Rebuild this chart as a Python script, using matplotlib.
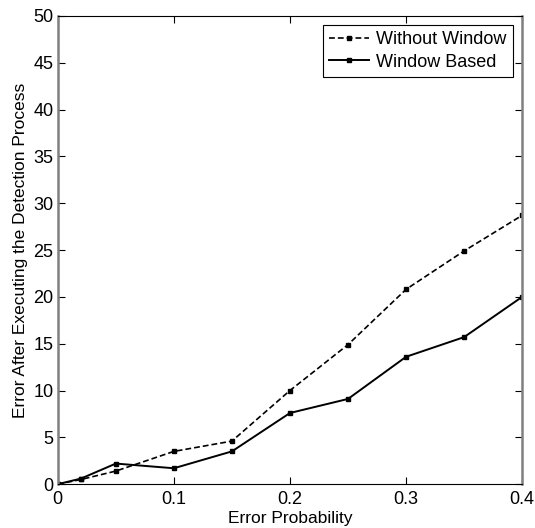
import matplotlib.pyplot as plt
import numpy as np

plt.rcParams['font.family'] = ['Liberation Sans', 'DejaVu Sans']

prob = [0, 0.02, 0.05, 0.1, 0.15, 0.2, 0.25, 0.3, 0.35, 0.4]
without_window = [0, 0.5, 1.4, 3.5, 4.6, 10.0, 14.9, 20.8, 24.9, 28.7]
window_based = [0, 0.6, 2.2, 1.7, 3.5, 7.6, 9.1, 13.6, 15.7, 20.0]

fig = plt.figure(figsize=(5.35, 5.28), dpi=100)
ax = fig.add_axes([0.108, 0.083, 0.868, 0.887])

ax.plot(prob, without_window, 'k--s', lw=1.2, ms=3.5, dashes=(3.5, 1.8), label='Without Window')
ax.plot(prob, window_based, 'k-s', lw=1.4, ms=3.5, label='Window Based')

ax.set_xlim(0, 0.4)
ax.set_ylim(0, 50)
ax.set_xticks([0, 0.1, 0.2, 0.3, 0.4])
ax.set_xticklabels(['0', '0.1', '0.2', '0.3', '0.4'])
ax.set_yticks(np.arange(0, 51, 5))
ax.tick_params(direction='in', labelsize=13, length=5, top=True, right=True)
ax.tick_params(axis='x', pad=5)
ax.tick_params(axis='y', pad=3)
for s in ['left', 'right']:
    ax.spines[s].set_color('#808080')
    ax.spines[s].set_linewidth(1.8)
ax.set_xlabel('Error Probability', fontsize=12.5, labelpad=2)
ax.set_ylabel('Error After Executing the Detection Process', fontsize=12.5, labelpad=4)

leg = ax.legend(loc='upper right', fontsize=13, fancybox=False, edgecolor='k',
                handlelength=2.2, borderaxespad=0.5, framealpha=1,
                borderpad=0.35, labelspacing=0.3, handletextpad=0.4)
leg.get_frame().set_linewidth(0.8)

plt.savefig('out.png')
